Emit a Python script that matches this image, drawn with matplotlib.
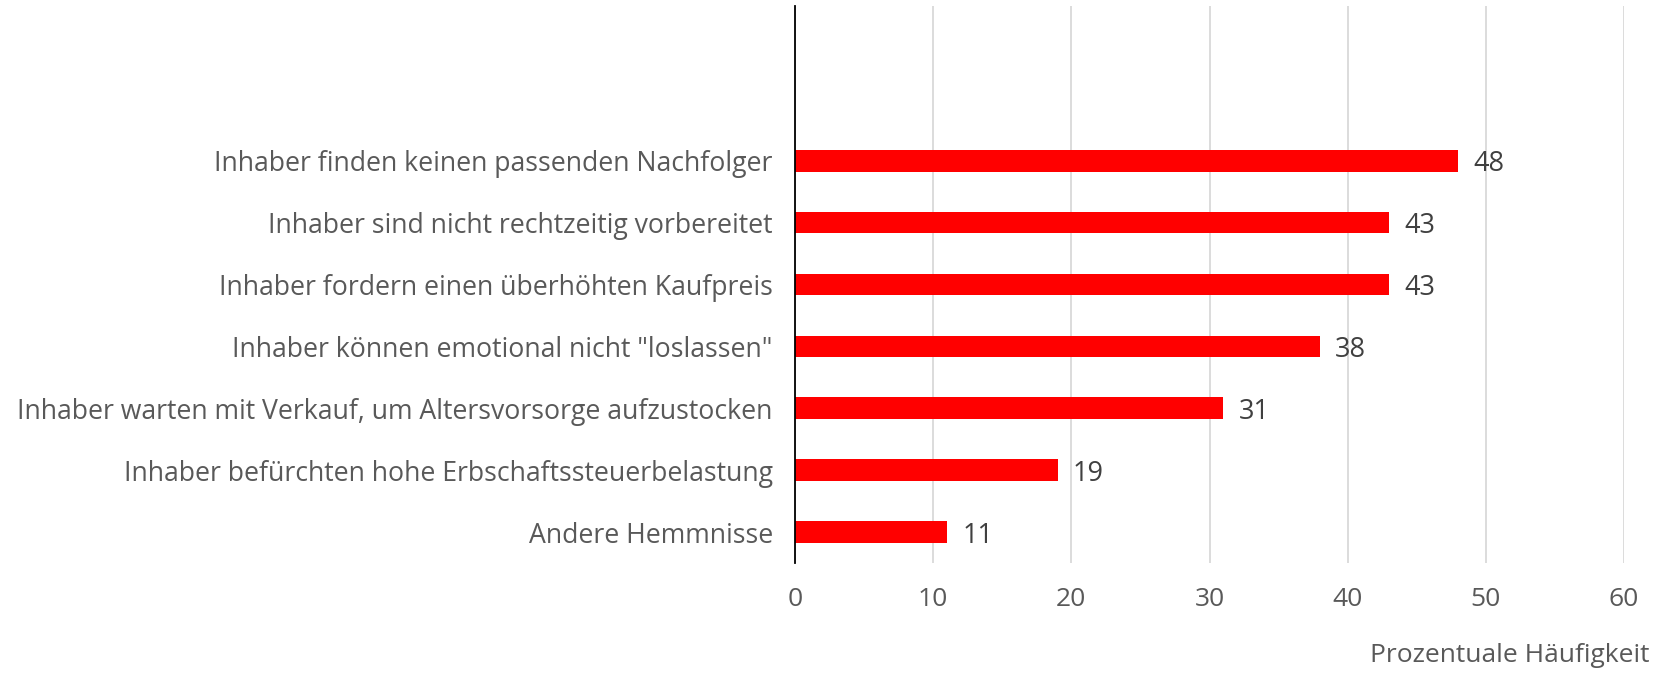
import matplotlib.pyplot as plt
from matplotlib import font_manager

# data
labels = ['Inhaber finden keinen passenden Nachfolger',
          'Inhaber sind nicht rechtzeitig vorbereitet',
          'Inhaber fordern einen überhöhten Kaufpreis',
          'Inhaber können emotional nicht "loslassen"',
          'Inhaber warten mit Verkauf, um Altersvorsorge aufzustocken',
          'Inhaber befürchten hohe Erbschaftssteuerbelastung',
          'Andere Hemmnisse']
values = [48, 43, 43, 38, 31, 19, 11]
xticks = [0, 10, 20, 30, 40, 50, 60]

names = {f.name for f in font_manager.fontManager.ttflist}
fam = 'Liberation Sans Narrow' if 'Liberation Sans Narrow' in names else 'Open Sans'
plt.rcParams['font.family'] = [fam, 'DejaVu Sans']

fig = plt.figure(figsize=(16.67, 6.73), dpi=100)
ax = fig.add_axes([795/1667, 1-563/673, (1624-795)/1667, (563-6)/673])

pos = list(range(len(values)))
ax.barh(pos, values, height=0.35, color='#ff0000', zorder=3)
for p, v in zip(pos, values):
    ax.text(v + 1.1, p, str(v), va='center_baseline', ha='left', fontsize=19.5, color='#404040')

ax.set_ylim(len(values) - 0.5, -2.5)
ax.set_yticks(pos)
ax.set_yticklabels(labels, fontsize=19.2, color='#595959')
ax.set_xlim(0, 60)
ax.set_xticks(xticks)
ax.set_xticklabels([str(t) for t in xticks], fontsize=19, color='#595959')
ax.tick_params(length=0, axis='y', pad=16)
ax.tick_params(length=0, axis='x', pad=17)
ax.grid(axis='x', color='#d9d9d9', linewidth=1.3, zorder=0)
for s in ['top', 'right', 'bottom']:
    ax.spines[s].set_visible(False)
ax.spines['left'].set_color('black')
ax.spines['left'].set_linewidth(1.3)
ax.spines['left'].set_zorder(4)

fig.text(1649/1667, 1-655/673, 'Prozentuale Häufigkeit', ha='right', va='center',
         fontsize=19, color='#595959')

fig.savefig('out.png', dpi=100)
